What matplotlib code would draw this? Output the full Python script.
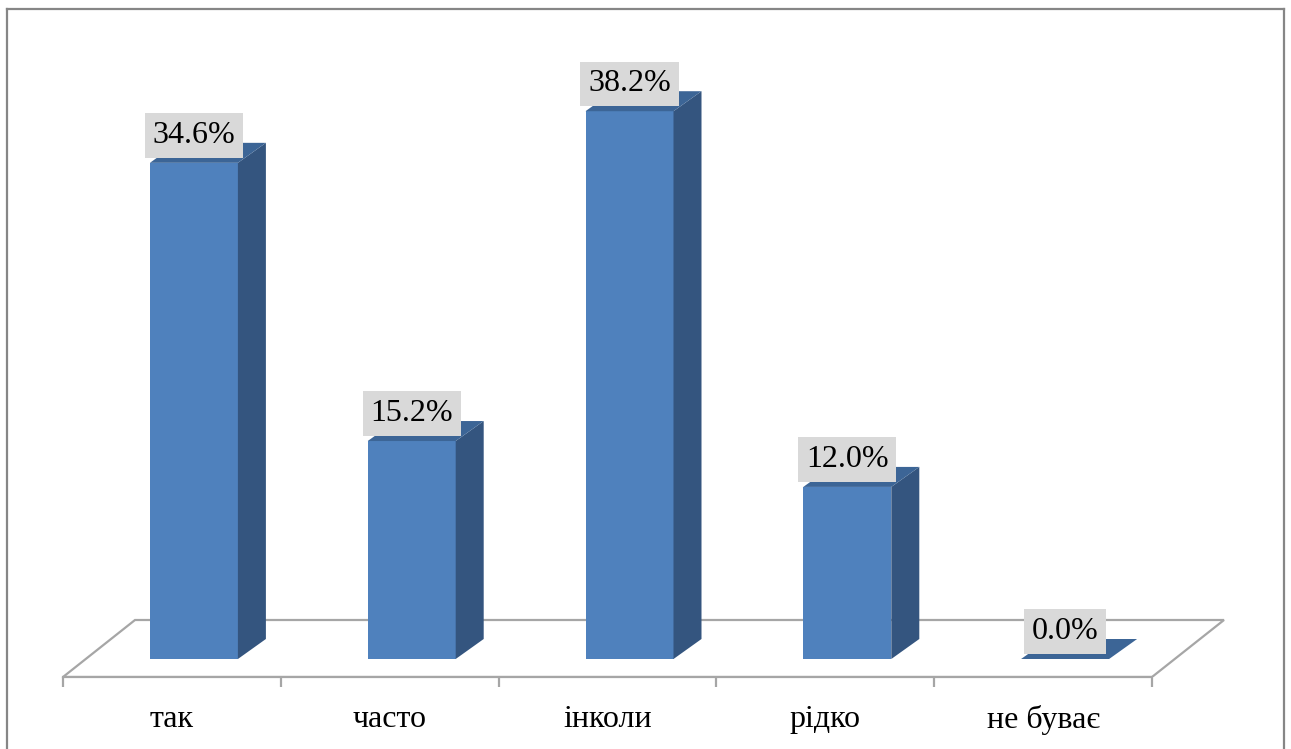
import numpy as np
import matplotlib.pyplot as plt
from matplotlib.patches import Polygon
from matplotlib.lines import Line2D

categories = ['так', 'часто', 'інколи', 'рідко', 'не буває']
values = [34.6, 15.2, 38.2, 12.0, 0.0]
labels = ['34.6%', '15.2%', '38.2%', '12.0%', '0.0%']

plt.rcParams['font.family'] = ['Liberation Serif', 'DejaVu Serif']

fig = plt.figure(figsize=(12.91, 7.49), dpi=100)
ax = fig.add_axes([0, (749 - 677) / 749, 1, 677 / 749])

# axis scale: one category = 217.8 px, 1% = 14.34 px
x0, x1 = -0.5 - 63 / 217.8, 4.5 + (1291 - 1152) / 217.8
ax.set_xlim(x0, x1)
ax.set_ylim(-18 / 14.34, 659 / 14.34)

# depth of floor and bars (in data units)
fdx, fdy = 72 / 217.8, 57 / 14.34
front_dx = 22 / 217.8
y_front = -18 / 14.34
bw = 88 / 217.8
bdx, bdy = 28 / 217.8, 20 / 14.34

front_col = '#4F81BD'
side_col = '#34557F'
top_col = '#3C6596'
grey = '#A6A6A6'

# floor
floor = Polygon([(-0.5, y_front), (4.5, y_front), (4.5 + fdx, y_front + fdy),
                 (-0.5 + fdx, y_front + fdy)], closed=True, fill=False,
                edgecolor=grey, lw=1.6, zorder=1)
ax.add_patch(floor)

xs = np.arange(len(categories))
for x, v, lab in zip(xs, values, labels):
    cx = x + front_dx
    l, r = cx - bw / 2, cx + bw / 2
    if v > 0:
        ax.add_patch(Polygon([(l, 0), (r, 0), (r, v), (l, v)], color=front_col, lw=0, zorder=3))
        ax.add_patch(Polygon([(r, 0), (r + bdx, bdy), (r + bdx, v + bdy), (r, v)],
                             color=side_col, lw=0, zorder=3))
    ax.add_patch(Polygon([(l, v), (r, v), (r + bdx, v + bdy), (l + bdx, v + bdy)],
                         color=top_col, lw=0, zorder=3))
    ax.annotate(lab, (cx, v), xytext=(0, 13), textcoords='offset pixels',
                ha='center', va='bottom', fontsize=23, zorder=5,
                bbox=dict(boxstyle='square,pad=0.24', fc='#D9D9D9', ec='none'))

for s in ['top', 'left', 'right']:
    ax.spines[s].set_visible(False)
ax.spines['bottom'].set_bounds(-0.5, 4.5)
ax.spines['bottom'].set_color(grey)
ax.spines['bottom'].set_linewidth(1.6)
ax.set_yticks([])
ax.set_xticks(xs)
ax.set_xticklabels(categories, fontsize=23)
ax.tick_params(axis='x', which='major', length=0, pad=20)
ax.set_xticks(np.arange(-0.5, 5, 1), minor=True)
ax.tick_params(axis='x', which='minor', length=7, width=1.6, color=grey, direction='out')
ax.patch.set_alpha(0)

# outer chart border
bc = '#868686'
fig.add_artist(Line2D([7 / 1291, 7 / 1291], [0, 1 - 9 / 749], color=bc, lw=1.6))
fig.add_artist(Line2D([7 / 1291, 1284 / 1291], [1 - 9 / 749, 1 - 9 / 749], color=bc, lw=1.6))
fig.add_artist(Line2D([1284 / 1291, 1284 / 1291], [0, 1 - 9 / 749], color=bc, lw=1.6))

fig.savefig('out.png', dpi=100)
